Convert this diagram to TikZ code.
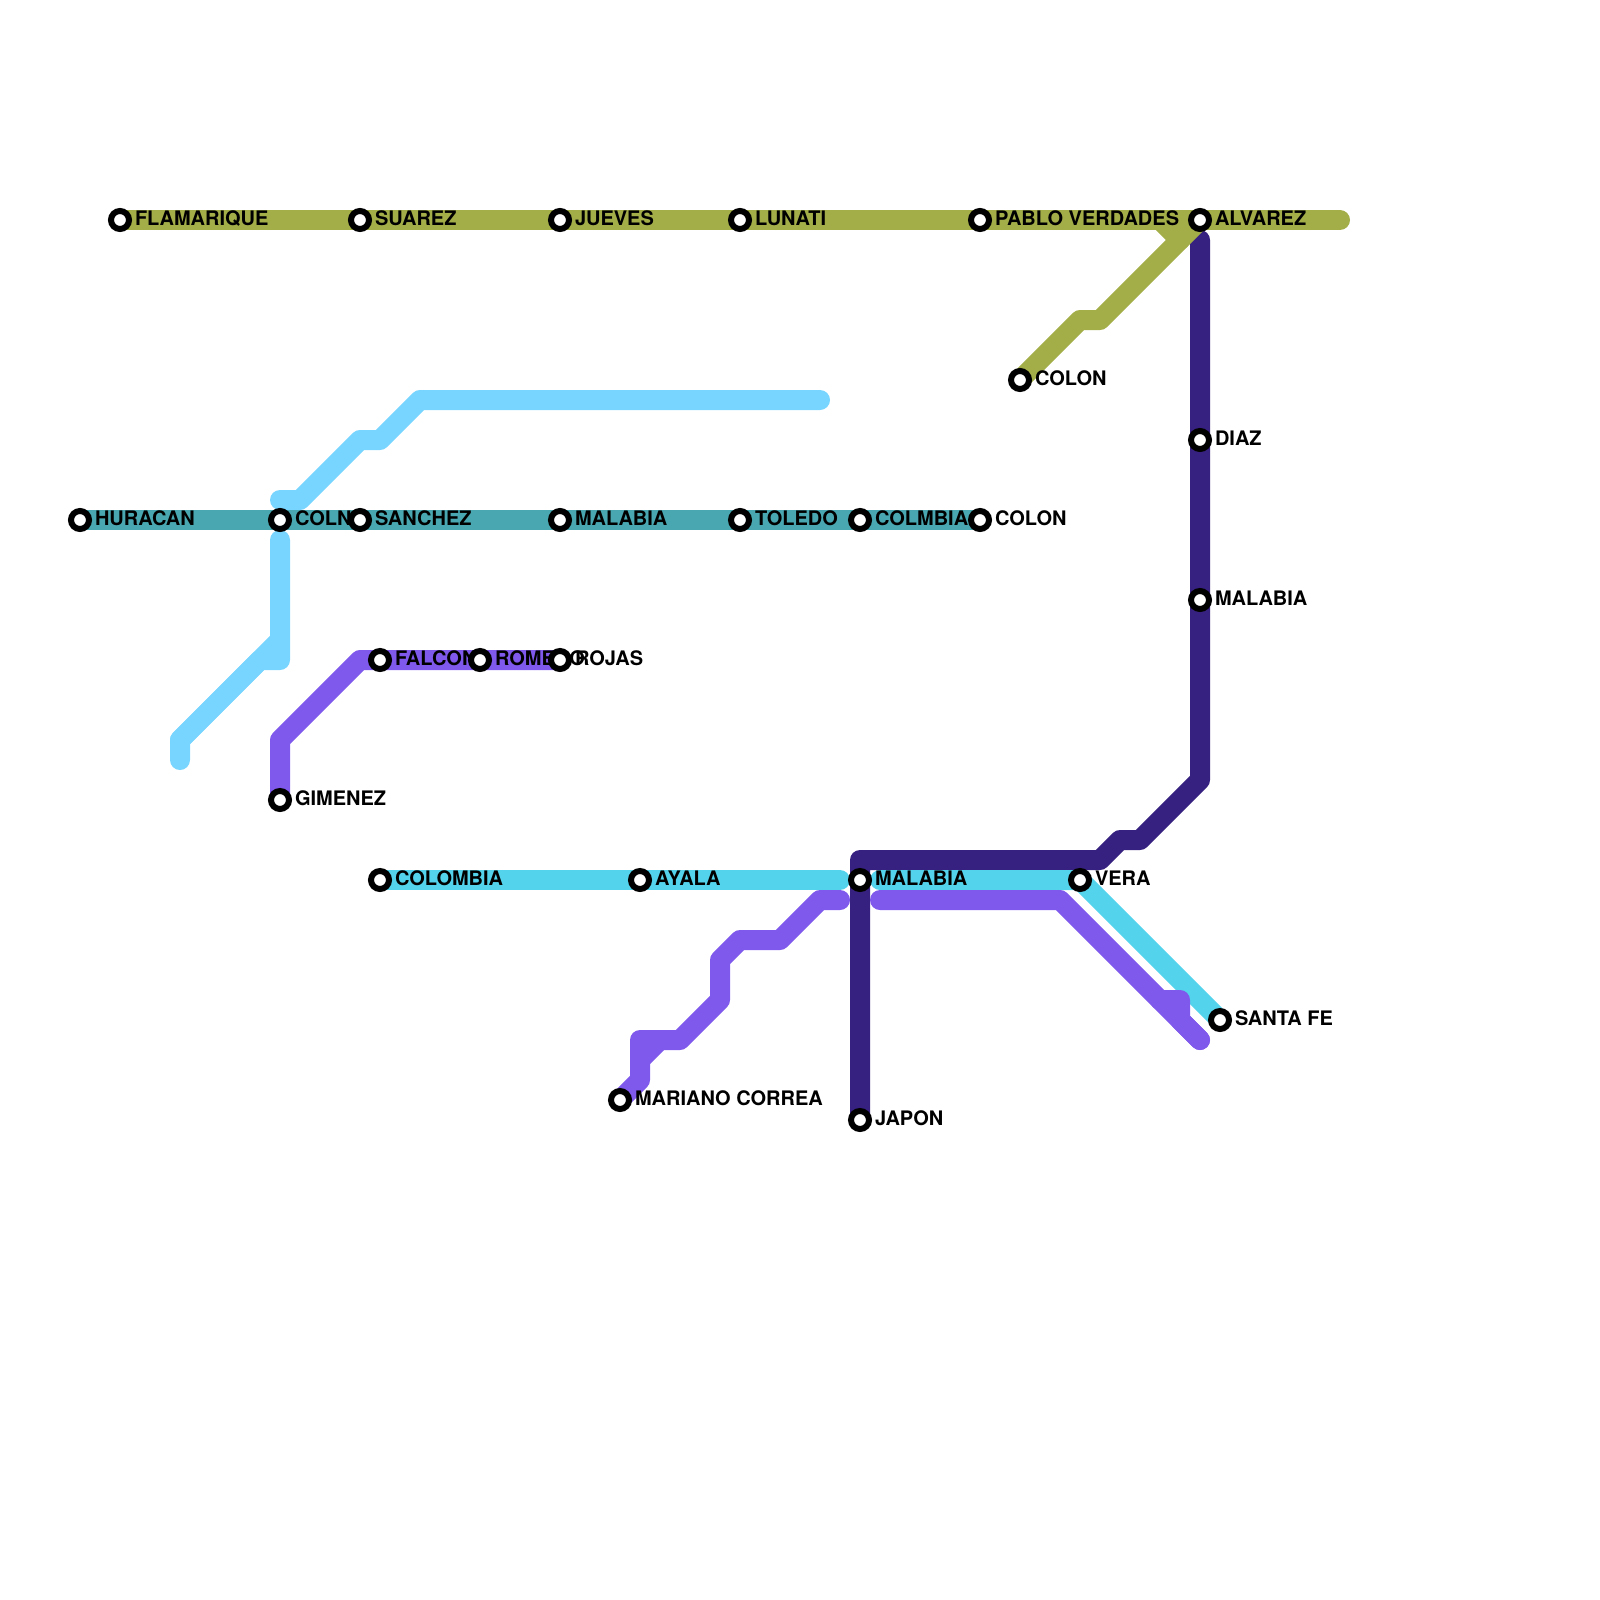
\documentclass[tikz,border=0pt]{standalone}
\usepackage{fontspec}
\setmainfont{TeX Gyre Heros}
\definecolor{olive}{HTML}{A3AE48}
\definecolor{tealline}{HTML}{48A7B0}
\definecolor{skyline}{HTML}{78D5FF}
\definecolor{violetline}{HTML}{7F58EC}
\definecolor{cyanline}{HTML}{54D4EC}
\definecolor{navyline}{HTML}{372180}
\pgfdeclarelayer{lines}
\pgfdeclarelayer{labels}
\pgfsetlayers{lines,labels,main}
\tikzset{
  metro/.style={line width=20pt,line cap=round,line join=round},
  stationdot/.style={circle,draw=black,fill=white,line width=6pt,minimum size=18pt,inner sep=0pt,outer sep=0pt},
  stationlabel/.style={anchor=base west,inner sep=0pt,outer sep=0pt,text=black,font=\fontsize{20}{24}\selectfont\bfseries},
}
\newcommand{\stn}[4]{%
  \node[stationdot] (#1) at (#2,#3) {};
  \begin{pgfonlayer}{labels}
    \node[stationlabel] (#1-l) at (#2+15,#3+5) {#4};
  \end{pgfonlayer}
}
\begin{document}
\begin{tikzpicture}[x=1pt,y=-1pt]
\useasboundingbox (0,0) rectangle (1600,1600);
% stations
\stn{flam}{120}{220}{FLAMARIQUE}
\stn{suar}{360}{220}{SUAREZ}
\stn{juev}{560}{220}{JUEVES}
\stn{luna}{740}{220}{LUNATI}
\stn{pablo}{980}{220}{PABLO VERDADES}
\stn{alva}{1200}{220}{ALVAREZ}
\stn{colonA}{1020}{380}{COLON}
\stn{diaz}{1200}{440}{DIAZ}
\stn{malD}{1200}{600}{MALABIA}
\stn{hura}{80}{520}{HURACAN}
\stn{coln}{280}{520}{COLN}
\stn{sanc}{360}{520}{SANCHEZ}
\stn{malT}{560}{520}{MALABIA}
\stn{tole}{740}{520}{TOLEDO}
\stn{colm}{860}{520}{COLMBIA}
\stn{colonB}{980}{520}{COLON}
\stn{falc}{380}{660}{FALCON}
\stn{rome}{480}{660}{ROMERO}
\stn{roja}{560}{660}{ROJAS}
\stn{gime}{280}{800}{GIMENEZ}
\stn{colo}{380}{880}{COLOMBIA}
\stn{ayal}{640}{880}{AYALA}
\stn{malC}{860}{880}{MALABIA}
\stn{vera}{1080}{880}{VERA}
\stn{sfe}{1220}{1020}{SANTA FE}
\stn{mari}{620}{1100}{MARIANO CORREA}
\stn{japo}{860}{1120}{JAPON}
% waypoints
\coordinate (oE) at (1340,220);
\coordinate (o1) at (1100,320);
\coordinate (o2) at (1080,320);
\coordinate (o3) at (1160,220);
\coordinate (o4) at (1180,240);
\coordinate (s1) at (420,400);
\coordinate (s2) at (820,400);
\coordinate (s3) at (380,440);
\coordinate (s4) at (360,440);
\coordinate (s5) at (300,500);
\coordinate (s6) at (280,500);
\coordinate (b1) at (280,540);
\coordinate (b2) at (280,660);
\coordinate (b3) at (260,660);
\coordinate (b4) at (180,740);
\coordinate (b5) at (180,760);
\coordinate (b6) at (280,640);
\coordinate (v1) at (280,740);
\coordinate (v2) at (360,660);
\coordinate (c1) at (840,880);
\coordinate (c2) at (880,880);
\coordinate (p1) at (640,1080);
\coordinate (p2) at (640,1040);
\coordinate (p3) at (680,1040);
\coordinate (p4) at (720,1000);
\coordinate (p5) at (720,960);
\coordinate (p6) at (740,940);
\coordinate (p7) at (780,940);
\coordinate (p8) at (820,900);
\coordinate (p9) at (840,900);
\coordinate (p10) at (640,1060);
\coordinate (p11) at (660,1040);
\coordinate (q1) at (880,900);
\coordinate (q2) at (1060,900);
\coordinate (q3) at (1160,1000);
\coordinate (q4) at (1180,1000);
\coordinate (q5) at (1180,1020);
\coordinate (q6) at (1200,1040);
\coordinate (n1) at (860,860);
\coordinate (n2) at (1100,860);
\coordinate (n3) at (1120,840);
\coordinate (n4) at (1140,840);
\coordinate (n5) at (1200,780);
\coordinate (n6) at (1200,240);
% lines
\begin{pgfonlayer}{lines}
\draw[metro,navyline] (japo.center) -- (n1) -- (n2) -- (n3) -- (n4) -- (n5) -- (n6);
\draw[metro,olive] (flam.center) -- (oE);
\draw[metro,olive] (alva.center) -- (o1) -- (o2) -- (colonA.center);
\draw[metro,olive] (o3) -- (o4);
\draw[metro,skyline] (s2) -- (s1) -- (s3) -- (s4) -- (s5) -- (s6);
\draw[metro,skyline] (b1) -- (b2) -- (b3) -- (b4) -- (b5);
\draw[metro,skyline] (b4) -- (b6);
\draw[metro,tealline,line cap=butt] (hura.center) -- (colonB.center);
\draw[metro,violetline] (roja.center) -- (v2) -- (v1) -- (gime.center);
\draw[metro,cyanline] (colo.center) -- (c1);
\draw[metro,cyanline] (c2) -- (vera.center) -- (sfe.center);
\draw[metro,violetline] (mari.center) -- (p1) -- (p2) -- (p3) -- (p4) -- (p5) -- (p6) -- (p7) -- (p8) -- (p9);
\draw[metro,violetline] (p10) -- (p11);
\draw[metro,violetline] (q1) -- (q2) -- (q3) -- (q4) -- (q5) -- (q6);
\draw[metro,violetline] (q3) -- (q6);
\end{pgfonlayer}
\end{tikzpicture}
\end{document}
